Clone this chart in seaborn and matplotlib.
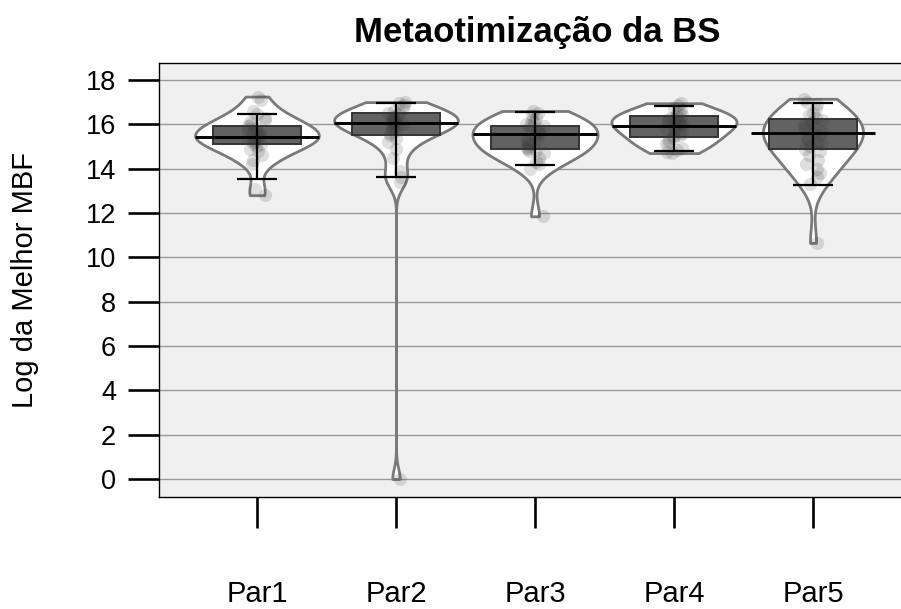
import numpy as np
import pandas as pd
import matplotlib
matplotlib.use("Agg")
import matplotlib.pyplot as plt
import seaborn as sns

# ---------------- data ----------------
categories = ["Par1", "Par2", "Par3", "Par4", "Par5"]

par1 = [17.25, 17.1, 16.6, 16.45, 16.3, 16.2, 16.1, 16.0, 15.9, 15.85,
        15.8, 15.7, 15.6, 15.55, 15.5, 15.45, 15.4, 15.35, 15.3, 15.2,
        15.15, 15.1, 15.0, 14.9, 14.8, 14.6, 14.4, 14.2, 13.1, 12.8]
par2 = [17.0, 16.95, 16.85, 16.75, 16.6, 16.5, 16.45, 16.4, 16.35, 16.3,
        16.25, 16.2, 16.15, 16.1, 16.05, 16.0, 15.95, 15.9, 15.8, 15.7,
        15.6, 15.5, 15.4, 15.2, 14.9, 14.5, 13.9, 13.6, 13.4, 0.0]
par3 = [16.6, 16.5, 16.4, 16.3, 16.2, 16.1, 16.0, 15.95, 15.9, 15.85,
        15.8, 15.7, 15.6, 15.5, 15.4, 15.3, 15.2, 15.1, 15.0, 14.95,
        14.9, 14.85, 14.8, 14.7, 14.5, 14.3, 14.2, 14.0, 11.85]
par4 = [16.95, 16.85, 16.75, 16.65, 16.55, 16.45, 16.4, 16.35, 16.3, 16.25,
        16.2, 16.15, 16.1, 16.05, 16.0, 15.95, 15.9, 15.8, 15.7, 15.6,
        15.5, 15.45, 15.4, 15.3, 15.2, 15.1, 14.95, 14.85, 14.75, 14.7]
par5 = [17.15, 17.0, 16.9, 16.7, 16.5, 16.4, 16.3, 16.2, 16.1, 16.0,
        15.9, 15.8, 15.7, 15.6, 15.5, 15.4, 15.3, 15.2, 15.1, 15.0,
        14.9, 14.8, 14.6, 14.4, 14.2, 14.0, 13.8, 13.6, 13.3, 10.65]

avg_line = [15.44, 16.07, 15.57, 15.93, 15.60]
box_low = [15.10, 15.50, 14.90, 15.43, 14.90]
box_high = [15.90, 16.50, 15.93, 16.38, 16.25]
whisk_low = [13.55, 13.64, 14.18, 14.80, 13.24]
whisk_high = [16.47, 16.95, 16.55, 16.83, 16.97]

yticks = [0, 2, 4, 6, 8, 10, 12, 14, 16, 18]

title = "Metaotimização da BS"
ylabel = "Log da Melhor MBF"

# ---------------- styles ----------------
violin_widths = [0.89, 0.89, 0.90, 0.90, 0.72]
bw_scale = 1.45

sns.set_style("white")
plt.rcParams["font.family"] = ["Liberation Sans", "DejaVu Sans"]
plt.rcParams["text.color"] = "black"
plt.rcParams["xtick.color"] = "black"
plt.rcParams["ytick.color"] = "black"

groups = [par1, par2, par3, par4, par5]
df = pd.DataFrame({
    "group": np.repeat(categories, [len(g) for g in groups]),
    "value": np.concatenate([np.asarray(g, float) for g in groups]),
})

W, H = 901, 609
fig = plt.figure(figsize=(W / 100, H / 100), dpi=100)
left_px, right_px, top_px, bot_px = 159, 915, 63, 497
ax = fig.add_axes([left_px / W, 1 - bot_px / H, (right_px - left_px) / W, (bot_px - top_px) / H])
ax.set_facecolor("#f0f0f0")

# grid lines
for t in yticks:
    ax.axhline(t, color="#9a9a9a", lw=1.0, zorder=0.5)

# violins (one per group, R nrd0-style bandwidth)
for i, (cat, vals) in enumerate(zip(categories, groups)):
    v = np.asarray(vals, float)
    sd = v.std(ddof=1)
    iqr = np.subtract(*np.percentile(v, [75, 25]))
    bw = bw_scale * 0.9 * min(sd, iqr / 1.34) * len(v) ** -0.2
    sub = df[df["group"] == cat]
    sns.violinplot(data=sub, x="group", y="value", order=categories, ax=ax,
                   cut=0, inner=None, color="white", saturation=1,
                   linecolor="#7a7a7a", linewidth=2.0, density_norm="width",
                   width=violin_widths[i], bw_method=bw / sd, gridsize=300,
                   zorder=1)

pos = np.arange(len(categories))
# inference boxes
ax.bar(pos, np.array(box_high) - np.array(box_low), bottom=box_low, width=0.64,
       color="#626262", edgecolor="#333333", linewidth=1.4, zorder=2)

# points
np.random.seed(3)
sns.stripplot(data=df, x="group", y="value", order=categories, ax=ax,
              color="#3a3a3a", alpha=0.16, size=9.5, jitter=0.07,
              linewidth=0, zorder=3)

# average lines
ax.hlines(avg_line, pos - 0.446, pos + 0.446, color="black", lw=2.1, zorder=4)
# whiskers
ax.vlines(pos, whisk_low, whisk_high, color="black", lw=1.6, zorder=4)
ax.hlines(whisk_low, pos - 0.144, pos + 0.144, color="black", lw=1.6, zorder=4)
ax.hlines(whisk_high, pos - 0.144, pos + 0.144, color="black", lw=1.6, zorder=4)

# axes limits / ticks
ax.set_xlim((left_px - 257) / 139, (right_px - 257) / 139)
ax.set_ylim(-(bot_px - 479) / 22.17, (479 - top_px) / 22.17)
ax.set_xticks(pos)
ax.set_xticklabels(categories, fontsize=21)
ax.set_yticks(yticks)
ax.set_yticklabels([str(t) for t in yticks], fontsize=19.5)
ax.tick_params(axis="y", direction="out", left=True, length=22, width=1.9, pad=9, colors="black")
ax.tick_params(axis="x", direction="out", bottom=True, length=22, width=1.9, pad=38, colors="black")
ax.set_xlabel("")
ax.set_ylabel("")
for s in ["top", "left", "bottom"]:
    ax.spines[s].set_visible(True)
    ax.spines[s].set_color("black")
    ax.spines[s].set_linewidth(1.0)
ax.spines["right"].set_visible(False)

fig.text(537 / W, 1 - 42 / H, title, ha="center", va="baseline",
         fontsize=25, fontweight="bold")
fig.text(25 / W, 1 - 280 / H, ylabel, ha="center", va="center",
         rotation=90, fontsize=21)

fig.savefig("out.png", dpi=100)
